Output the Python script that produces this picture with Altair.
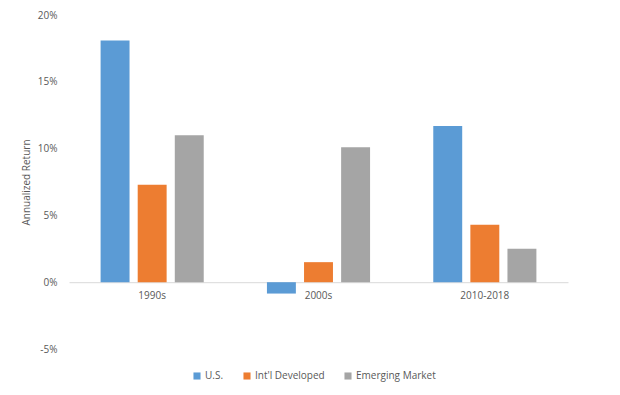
import altair as alt
import pandas as pd

decades = ["1990s", "2000s", "2010-2018"]
series = ["U.S.", "Int'l Developed", "Emerging Market"]
us = [18.1, -0.85, 11.7]
intl = [7.3, 1.5, 4.3]
em = [11.0, 10.1, 2.5]
colors = ["#5B9BD5", "#ED7D31", "#A5A5A5"]

rows = []
for s, vals in zip(series, [us, intl, em]):
    for d, v in zip(decades, vals):
        rows.append({"Decade": d, "Series": s, "Return": v / 100.0})
df = pd.DataFrame(rows)

FONT = "Open Sans"
TXT = "#595959"

chart = alt.Chart(df).mark_bar().encode(
    x=alt.X("Decade:N", sort=decades,
            scale=alt.Scale(paddingInner=0.38, paddingOuter=0.19),
            axis=alt.Axis(title=None, labelAngle=0, ticks=False, offset=-66.8,
                          domainColor="#D9D9D9", domainWidth=1,
                          labelPadding=8, labelFont=FONT, labelFontSize=10,
                          labelColor=TXT)),
    xOffset=alt.XOffset("Series:N", sort=series,
                        scale=alt.Scale(paddingInner=0.22, paddingOuter=0)),
    y=alt.Y("Return:Q",
            scale=alt.Scale(domain=[-0.05, 0.20], nice=False, zero=False),
            axis=alt.Axis(title="Annualized Return", values=[-0.05, 0, 0.05, 0.10, 0.15, 0.20],
                          labelExpr="(datum.value < 0 ? '-' : '') + format(abs(datum.value) * 100, '.0f') + '%'",
                          grid=False, ticks=False, domain=False,
                          labelPadding=12, labelFont=FONT, labelFontSize=10,
                          labelColor=TXT, titleFont=FONT, titleFontSize=10,
                          titleFontWeight="normal", titleColor=TXT, titlePadding=6)),
    color=alt.Color("Series:N", sort=series,
                    scale=alt.Scale(domain=series, range=colors),
                    legend=alt.Legend(title=None, orient="none", direction="horizontal",
                                      legendX=123, legendY=356,
                                      symbolType="square", symbolSize=50,
                                      symbolStrokeWidth=0,
                                      labelFont=FONT, labelFontSize=10,
                                      labelColor=TXT, columnPadding=18,
                                      labelOffset=3)),
).properties(
    width=499, height=334,
    background="white",
    autosize=alt.AutoSizeParams(type="none"),
    padding={"left": 61, "top": 7, "right": 36, "bottom": 38},
).configure_view(stroke=None)

chart.save("out.html", embed_options={"renderer": "svg", "actions": False})
